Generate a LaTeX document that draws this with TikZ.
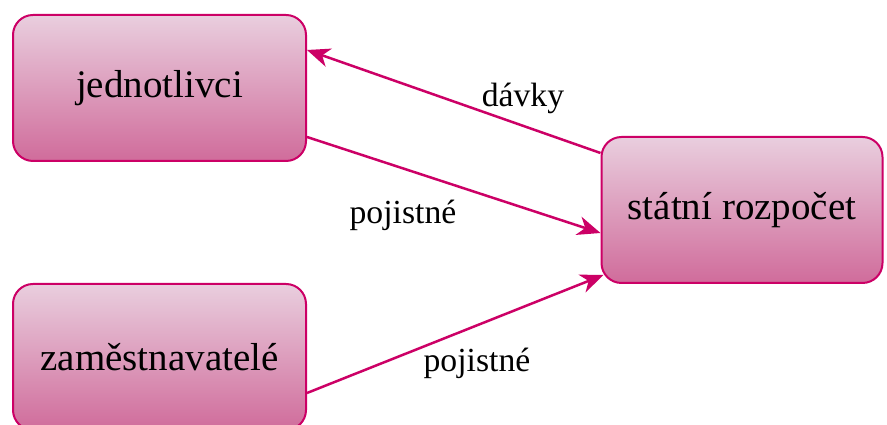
\documentclass[tikz,border=0pt]{standalone}
\usepackage{fontspec}
\setmainfont{Liberation Serif}
\usetikzlibrary{calc,arrows.meta}
\definecolor{edge}{HTML}{CC0066}
\definecolor{boxtop}{HTML}{E9CEDE}
\definecolor{boxbot}{HTML}{D06C9B}
\tikzset{
  boxnode/.style={draw=edge, line width=2pt, rounded corners=20pt,
    top color=boxtop, bottom color=boxbot,
    minimum width=293pt, minimum height=146pt, inner sep=0pt,
    font=\fontsize{39}{47}\selectfont},
  flow/.style={draw=edge, line width=2.5pt,
    -{Stealth[length=23pt,width=19pt,inset=7pt]}},
  lbl/.style={font=\fontsize{33.7}{40}\selectfont, inner sep=0pt}
}
\begin{document}
\begin{tikzpicture}[x=1pt,y=1pt]
\useasboundingbox (0,0) rectangle (887,425);
\clip (0,0) rectangle (887,425);
\fill[white] (0,0) rectangle (887,425);
\node[boxnode] (b1) at (159.5,337) {jednotlivci};
\node[boxnode, minimum width=281pt] (b2) at (742,215) {státní rozpočet};
\node[boxnode] (b3) at (159.5,68) {zaměstnavatelé};
\coordinate (d1) at ($(b2.west)+(0,57)$);
\coordinate (d2) at ($(b1.east)+(0,38)$);
\coordinate (p1) at ($(b1.east)+(0,-49)$);
\coordinate (p2) at ($(b2.west)+(0,-23)$);
\coordinate (q1) at ($(b3.east)+(0,-36)$);
\coordinate (q2) at ($(b2.west)+(3,-65)$);
\draw[flow] (d1) -- (d2);
\draw[flow] (p1) -- (p2);
\draw[flow] (q1) -- (q2);
\node[lbl] (l1) at (523,327) {dávky};
\node[lbl] (l2) at (403,210) {pojistné};
\node[lbl] (l3) at (477,62) {pojistné};
\end{tikzpicture}
\end{document}
